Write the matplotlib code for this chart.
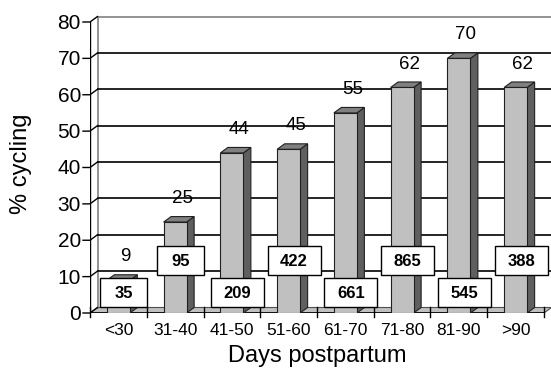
import matplotlib.pyplot as plt
from matplotlib.patches import Polygon, Rectangle

# % of cows cycling by days postpartum, with number of cows per group
categories = ["<30", "31-40", "41-50", "51-60", "61-70", "71-80", "81-90", ">90"]
pct_cycling = [9, 25, 44, 45, 55, 62, 70, 62]
n_cows = [35, 95, 209, 422, 661, 865, 545, 388]
y_ticks = [0, 10, 20, 30, 40, 50, 60, 70, 80]

plt.rcParams["font.family"] = ["Liberation Sans", "DejaVu Sans"]

W, H = 551, 368
fig = plt.figure(figsize=(W / 100, H / 100), dpi=100)

# plot frame in pixels: front plane starts at x=90, zero line at y=313
left_px, right_px, base_px, top_px = 90, 551, 313, 10
cat_px = 56.75     # pixels per category
unit_px = 3.6375   # pixels per percent
ax = fig.add_axes([left_px / W, (H - base_px) / H,
                   (right_px - left_px) / W, (base_px - top_px) / H])
ax.set_xlim(0, (right_px - left_px) / cat_px)
ax.set_ylim(0, (base_px - top_px) / unit_px)
ax.axis("off")

px_x = 1 / cat_px
px_y = 1 / unit_px
dx = 7.5 * px_x    # 3d depth offset
dy = 5.5 * px_y
n = len(categories)
ymax = y_ticks[-1]
xr = ax.get_xlim()[1]

# floor
ax.add_patch(Polygon([(0, 0), (n, 0), (n + dx, dy), (dx, dy)], closed=True,
                     fc="#c0c0c0", ec="#505050", lw=0.8, zorder=1))
ax.plot([0, n], [0, 0], color="black", lw=1.2, zorder=2, solid_capstyle="butt")

# back wall: left edge and gridlines
ax.plot([dx, dx], [dy, ymax + dy], color="#808080", lw=1.2, zorder=1)
for v in y_ticks[1:]:
    col = "#808080" if v == ymax else "black"
    ax.plot([dx, xr], [v + dy, v + dy], color=col, lw=1.2, zorder=1, clip_on=False)

# value axis with ticks running into the wall
ax.plot([0, 0], [0, ymax], color="black", lw=1.0, zorder=2)
for v in y_ticks:
    ax.plot([-7 * px_x, 0, dx], [v, v, v + dy], color="black", lw=1.0,
            zorder=2, clip_on=False)
    ax.text(-9 * px_x, v - 7 * px_y, str(v), ha="right", va="baseline",
            fontsize=15, clip_on=False)

# category ticks and labels
for i in range(n + 1):
    ax.plot([i, i], [-1.2, 1.6], color="black", lw=1.0, zorder=2, clip_on=False)
for i, lab in enumerate(categories):
    ax.text(i + 0.5, -22 * px_y, lab, ha="center", va="baseline",
            fontsize=12.5, clip_on=False)

# 3d bars
half_w = 11.5 * px_x
for i, v in enumerate(pct_cycling):
    x0 = i + 0.5 - half_w
    x1 = i + 0.5 + half_w
    ax.add_patch(Polygon([(x1, 0), (x1 + dx, dy), (x1 + dx, v + dy), (x1, v)],
                         closed=True, fc="#5f5f5f", ec="#202020", lw=0.8, zorder=3))
    ax.add_patch(Polygon([(x0, v), (x1, v), (x1 + dx, v + dy), (x0 + dx, v + dy)],
                         closed=True, fc="#808080", ec="#202020", lw=0.8, zorder=3))
    ax.add_patch(Rectangle((x0, 0), x1 - x0, v, fc="#c0c0c0", ec="#202020",
                           lw=0.8, zorder=3))
    ax.text(i + 0.5 + 7 * px_x, v + 5.2, str(v), ha="center", va="baseline",
            fontsize=13.5, zorder=4)

# boxed group sizes, alternating low / high
box_h = 29 * px_y
for i, cnt in enumerate(n_cows):
    s = str(cnt)
    bw = (35 + 6 * len(s)) * px_x
    cx = i + 0.5 + 5.5 * px_x
    cy = 5.5 if i % 2 == 0 else 14.3
    ax.add_patch(Rectangle((cx - bw / 2, cy - box_h / 2), bw, box_h,
                           fc="white", ec="black", lw=1.0, zorder=5))
    ax.text(cx, cy - 5.5 * px_y, s, ha="center", va="baseline",
            fontsize=12, fontweight="bold", zorder=6)

# axis titles
fig.text(21 / W, 1 - 164 / H, "% cycling", rotation=90, ha="center",
         va="center", fontsize=17)
ax.text(4, -49 * px_y, "Days postpartum", ha="center", va="baseline",
        fontsize=17, clip_on=False)

fig.savefig("out.png", dpi=100)
